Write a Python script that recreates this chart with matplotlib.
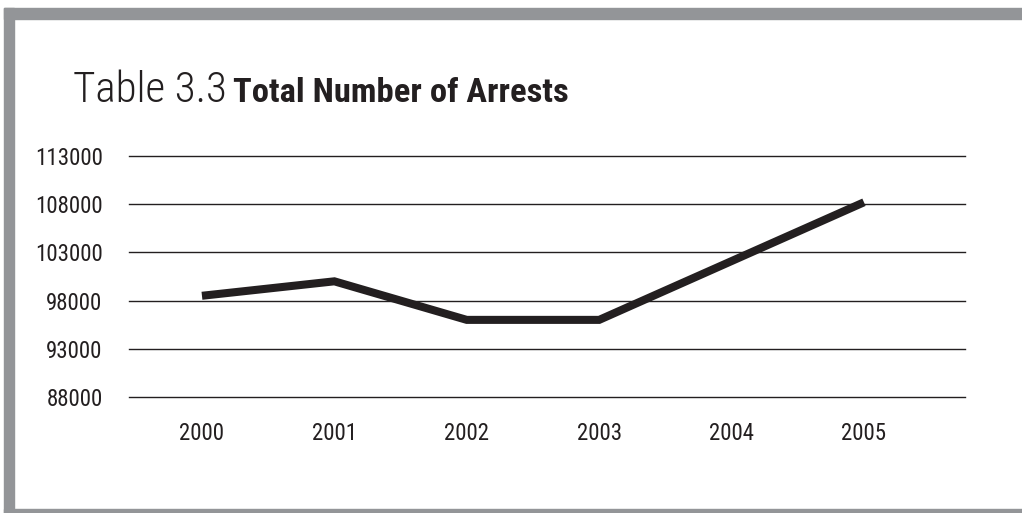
import matplotlib
matplotlib.use("Agg")
import matplotlib.pyplot as plt
from matplotlib.patches import Rectangle
from matplotlib import font_manager

# arrests per year
years = ["2000", "2001", "2002", "2003", "2004", "2005"]
arrests = [98500, 100000, 96000, 96000, 102100, 108200]
yticks = [88000, 93000, 98000, 103000, 108000, 113000]

ink = "#231f20"
frame = "#939598"

# prefer a condensed face if one is around, else Roboto
installed = {f.name for f in font_manager.fontManager.ttflist}
condensed = [n for n in ["Liberation Sans Narrow", "Roboto Condensed",
                         "Open Sans Condensed"] if n in installed]
face = condensed[0] if condensed else "Roboto"
fam = [face, "DejaVu Sans"]
k = 1.0 if condensed else 0.86

W, H = 1022, 513
fig = plt.figure(figsize=(W / 100, H / 100), dpi=100)
fig.patch.set_facecolor("white")

# grey frame: top, left and bottom bands
fig.patches.append(Rectangle((4 / W, 1 - 19 / H), 1 - 4 / W, 11 / H,
                             transform=fig.transFigure, color=frame, zorder=0))
fig.patches.append(Rectangle((4 / W, 0), 10 / W, 1 - 8 / H,
                             transform=fig.transFigure, color=frame, zorder=0))
fig.patches.append(Rectangle((4 / W, 0), 1 - 4 / W, 4 / H,
                             transform=fig.transFigure, color=frame, zorder=0))

ax = fig.add_axes([129 / W, 1 - 397 / H, (965 - 129) / W, (397 - 156) / H])
x = list(range(len(years)))
ax.plot(x, arrests, color=ink, lw=5.8, solid_joinstyle="miter",
        solid_capstyle="butt", zorder=3)

ax.set_xlim(-0.551, 5.763)
ax.set_ylim(88000, 113000)
ax.set_xticks(x)
ax.set_xticklabels(years, family=fam, fontsize=16.5 * k, color=ink)
ax.set_yticks(yticks)
ax.set_yticklabels([str(v) for v in yticks], family=fam, fontsize=16.5 * k, color=ink)
ax.tick_params(axis="both", length=0)
ax.tick_params(axis="y", pad=19)
ax.tick_params(axis="x", pad=18)

ax.yaxis.grid(True, color=ink, lw=1.0)
for gl in ax.get_ygridlines():
    gl.set_clip_on(False)
ax.set_axisbelow(True)
for s in ax.spines.values():
    s.set_visible(False)

fig.text(73 / W, 1 - 102 / H, "Table 3.3", family=fam, fontsize=31 * k + (0 if condensed else 1.5),
         fontweight="light", color=ink, va="baseline", ha="left")
fig.text(233 / W, 1 - 102 / H, "Total Number of Arrests", family=fam,
         fontsize=24.8 if condensed else 22, fontweight="bold", color=ink,
         va="baseline", ha="left")

fig.savefig("out.png", dpi=100)
